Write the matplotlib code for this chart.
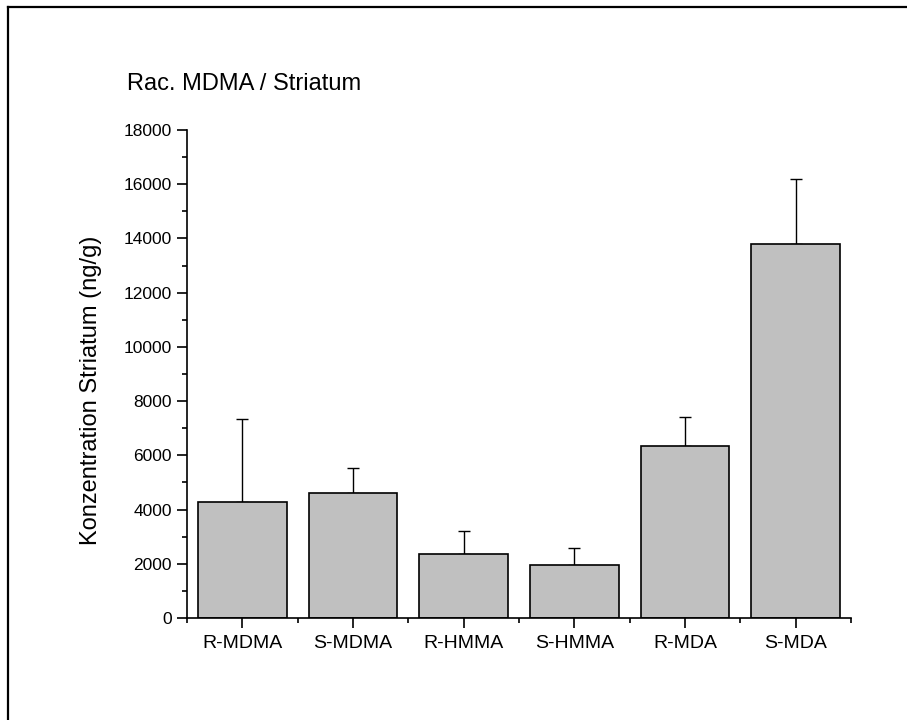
import numpy as np
import matplotlib.pyplot as plt
from matplotlib.lines import Line2D

plt.rcParams['font.family'] = ['Liberation Sans', 'DejaVu Sans']

categories = ['R-MDMA', 'S-MDMA', 'R-HMMA', 'S-HMMA', 'R-MDA', 'S-MDA']
means = [4270, 4615, 2360, 1950, 6345, 13800]
errors = [3065, 925, 850, 630, 1060, 2390]


def bar():
    fig = plt.figure(figsize=(9.07, 7.2), dpi=100)
    ax = fig.add_axes([187 / 907, 1 - 618 / 720, (851 - 187) / 907, (618 - 130) / 720])

    x = np.arange(len(categories))
    ax.bar(x, means, width=0.8, color='#c0c0c0', edgecolor='black', linewidth=1.2, zorder=2)
    ax.errorbar(x, means, yerr=[np.zeros(len(means)), errors], fmt='none',
                ecolor='black', elinewidth=1.0, capsize=4, capthick=1.0, zorder=1)

    ax.set_xlim(-0.5, 5.5)
    ax.set_ylim(0, 18000)
    ax.set_xticks(x)
    ax.set_xticklabels(categories)
    ax.set_xticks(np.arange(-0.5, 6, 1), minor=True)
    ax.set_yticks(np.arange(0, 18001, 2000))
    ax.set_yticks(np.arange(1000, 18000, 2000), minor=True)

    for s in ['top', 'right']:
        ax.spines[s].set_visible(False)
    for s in ['left', 'bottom']:
        ax.spines[s].set_linewidth(1.2)
    ax.tick_params(which='major', length=7, width=1.2, labelsize=12.5, pad=4)
    ax.tick_params(which='minor', length=3.5, width=1.2)
    ax.tick_params(axis='x', which='major', labelsize=14, pad=5)

    ax.set_ylabel('Konzentration Striatum (ng/g)', fontsize=17)
    ax.yaxis.set_label_coords((102 - 187) / 664, (618 - 390) / 488)
    fig.text(127 / 907, 1 - 84 / 720, 'Rac. MDMA / Striatum', fontsize=17,
             ha='left', va='center')

    # frame of the original figure (only top and left edges visible)
    fig.add_artist(Line2D([7.5 / 907, 7.5 / 907], [0, 1 - 6.5 / 720],
                          transform=fig.transFigure, color='black', linewidth=1.6))
    fig.add_artist(Line2D([7.5 / 907, 1], [1 - 6.5 / 720, 1 - 6.5 / 720],
                          transform=fig.transFigure, color='black', linewidth=1.6))

    plt.savefig('out.png', dpi=100)


def main():
    bar()


if __name__ == '__main__':
    main()
